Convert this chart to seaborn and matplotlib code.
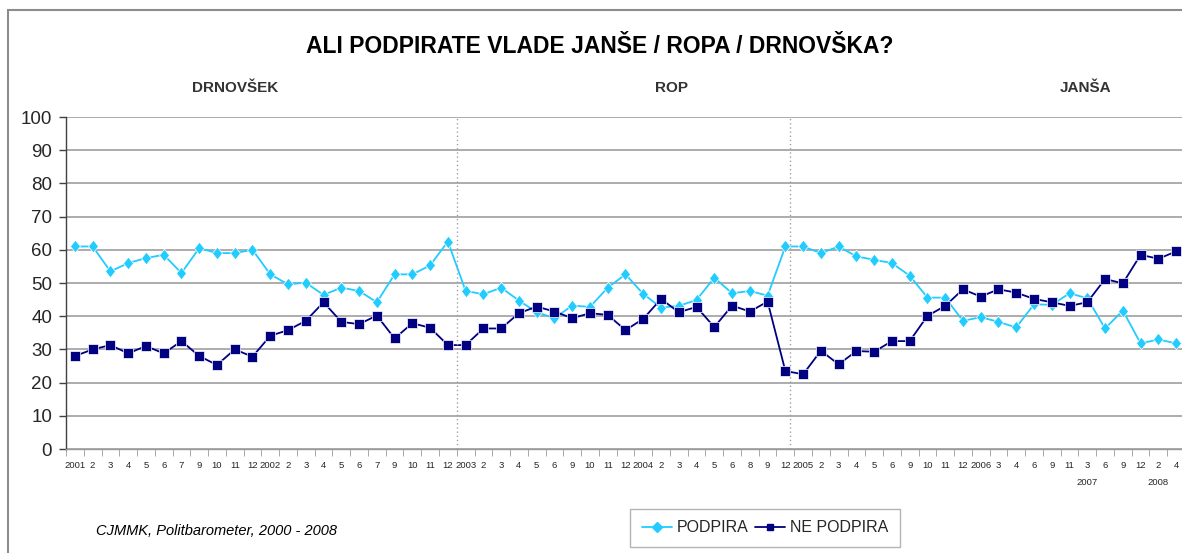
import matplotlib
matplotlib.use("Agg")
import matplotlib.pyplot as plt
from matplotlib.lines import Line2D
from matplotlib.patches import Rectangle
import numpy as np
import pandas as pd
import seaborn as sns

# x-axis labels (month numbers, year at first survey of each year)
labels = ["2001", "2", "3", "4", "5", "6", "7", "9", "10", "11", "12",
          "2002", "2", "3", "4", "5", "6", "7", "9", "10", "11", "12",
          "2003", "2", "3", "4", "5", "6", "9", "10", "11", "12",
          "2004", "2", "3", "4", "5", "6", "8", "9", "12",
          "2005", "2", "3", "4", "5", "6", "9", "10", "11", "12",
          "2006", "3", "4", "6", "9", "11",
          "3\n2007", "6", "9", "12",
          "2\n2008", "4"]

podpira = [61.0, 61.0, 53.5, 56.0, 57.5, 58.5, 53.0, 60.5, 59.0, 59.0, 60.0,
           52.6, 49.6, 50.1, 46.4, 48.6, 47.6, 44.2, 52.6, 52.6, 55.3, 62.5,
           47.6, 46.6, 48.6, 44.7, 41.2, 39.4, 43.2, 42.8, 48.6, 52.6,
           46.7, 42.6, 43.1, 44.9, 51.6, 46.9, 47.6, 46.2, 61.0,
           61.0, 59.0, 61.0, 58.0, 57.0, 56.0, 52.2, 45.6, 45.6, 38.6,
           39.7, 38.3, 36.6, 43.6, 43.4, 46.9,
           45.4, 36.3, 41.7, 31.8,
           33.0, 31.8]

ne_podpira = [28.0, 30.0, 31.3, 28.8, 31.0, 28.8, 32.5, 28.0, 25.3, 30.0, 27.8,
              34.1, 35.8, 38.6, 44.2, 38.3, 37.6, 40.2, 33.3, 37.9, 36.5, 31.3,
              31.3, 36.3, 36.3, 40.9, 42.9, 41.4, 39.4, 40.9, 40.4, 35.8,
              39.2, 45.2, 41.2, 42.8, 36.7, 43.2, 41.4, 44.4, 23.5,
              22.5, 29.6, 25.5, 29.5, 29.3, 32.5, 32.5, 40.1, 43.1, 48.1,
              45.9, 48.1, 47.1, 45.2, 44.2, 43.1,
              44.2, 51.2, 49.9, 58.5,
              57.3, 59.5]

periods = ["DRNOVŠEK", "ROP", "JANŠA"]
period_breaks = [21.5, 40.25]

CYAN = "#22CCFF"
NAVY = "#000080"

sns.set_style("white")
plt.rcParams["font.family"] = ["Liberation Sans", "DejaVu Sans"]

x = np.arange(len(labels))
df = pd.concat([
    pd.DataFrame({"x": x, "value": podpira, "series": "PODPIRA"}),
    pd.DataFrame({"x": x, "value": ne_podpira, "series": "NE PODPIRA"}),
])

diamond = [(0, 1), (0.8, 0), (0, -1), (-0.8, 0), (0, 1)]

fig = plt.figure(figsize=(11.82, 5.53), dpi=100)
ax = fig.add_axes([66 / 1182, 104 / 553, 1119 / 1182, 332 / 553])

sns.lineplot(data=df, x="x", y="value", hue="series", style="series",
             palette={"PODPIRA": CYAN, "NE PODPIRA": NAVY},
             markers={"PODPIRA": diamond, "NE PODPIRA": "s"},
             dashes=False, linewidth=1.3, markersize=9,
             markeredgewidth=0.5, legend=False, ax=ax)
for ln in ax.lines:
    if ln.get_marker() == "s":
        ln.set_markersize(6.8)

ax.set_xlim(-0.5, len(labels) - 0.5)
ax.set_ylim(0, 100)
ax.set_yticks(range(0, 101, 10))
ax.yaxis.grid(True, color="#a6a6a6", linewidth=1.3)
ax.set_axisbelow(True)
ax.set_xlabel("")
ax.set_ylabel("")

for s in ["top", "right"]:
    ax.spines[s].set_visible(False)
ax.spines["left"].set_color("#404040")
ax.spines["left"].set_linewidth(1.0)
ax.spines["bottom"].set_color("#9a9a9a")
ax.spines["bottom"].set_linewidth(1.0)

ax.tick_params(axis="y", direction="out", length=5, width=1, color="#404040",
               labelsize=13.5, pad=5, left=True)
ax.set_xticks(x)
ax.set_xticklabels(labels, fontsize=6.8, linespacing=2.1)
ax.set_xticks(np.arange(-0.5, len(labels)), minor=True)
ax.tick_params(axis="x", which="major", length=0, pad=9)
ax.tick_params(axis="x", which="minor", direction="out", length=5,
               color="#9a9a9a", bottom=True)

for b in period_breaks:
    ax.axvline(b, color="#a0a0a0", linestyle=(0, (1, 2)), linewidth=1.0)

# period headers
for name, xpos in zip(periods, [235, 672, 1086]):
    fig.text(xpos / 1182, 1 - 88 / 553, name, ha="center", va="center",
             fontsize=11, fontweight="bold", color="#333333")

fig.text(600 / 1182, 1 - 47 / 553, "ALI PODPIRATE VLADE JANŠE / ROPA / DRNOVŠKA?",
         ha="center", va="center", fontsize=16.5, fontweight="bold", color="black")

fig.text(96 / 1182, 1 - 531 / 553, "CJMMK, Politbarometer, 2000 - 2008",
         ha="left", va="center", fontsize=10.5, style="italic", color="black")

handles = [
    Line2D([], [], color=CYAN, marker="D", markersize=5.5, linewidth=1.3),
    Line2D([], [], color=NAVY, marker="s", markersize=5, linewidth=1.3),
]
leg = fig.legend(handles, ["PODPIRA", "NE PODPIRA"], loc="center",
                 bbox_to_anchor=(765 / 1182, 1 - 528 / 553), ncol=2,
                 fontsize=11.5, frameon=True, fancybox=False, handlelength=1.9,
                 handletextpad=0.3, columnspacing=0.4, borderpad=0.75)
leg.get_frame().set_edgecolor("#a0a0a0")
leg.get_frame().set_linewidth(1.0)

# outer chart frame
fig.add_artist(Rectangle((8 / 1182, -0.1), 1.2, 1 - 10 / 553 + 0.1,
                         transform=fig.transFigure, fill=False,
                         edgecolor="#8c8c8c", linewidth=1.5))

fig.savefig("out.png", dpi=100)
